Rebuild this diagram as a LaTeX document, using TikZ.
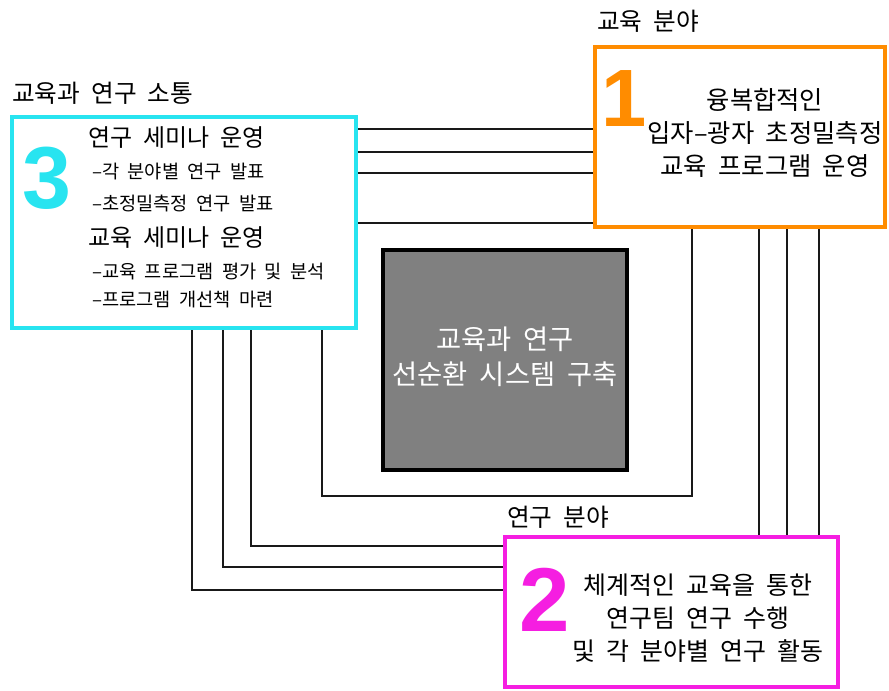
\documentclass[tikz,border=0pt]{standalone}
\usepackage{fontspec}
\setmainfont{Noto Sans CJK KR}[WordSpace=2]
\newfontfamily\numfont{Liberation Sans}
\usetikzlibrary{backgrounds}
\definecolor{cyanbox}{RGB}{40,228,240}
\definecolor{orangebox}{RGB}{255,140,0}
\definecolor{magbox}{RGB}{245,30,225}
\definecolor{coregray}{RGB}{128,128,128}
\definecolor{wirecol}{RGB}{25,25,25}
\begin{document}
\begin{tikzpicture}[x=0.75pt,y=-0.75pt,
  panel/.style={draw=#1, line width=3pt, fill=white, inner sep=0pt},
  wire/.style={draw=wirecol, line width=1.5pt},
  lbl/.style={anchor=west, inner sep=0pt, font=\fontsize{18.5pt}{22pt}\selectfont},
  head/.style={anchor=west, inner sep=0pt, font=\fontsize{18pt}{22pt}\selectfont},
  subitem/.style={anchor=west, inner sep=0pt, font=\fontsize{14pt}{17pt}\selectfont},
  body/.style={align=center, inner sep=0pt, font=\fontsize{19pt}{24.75pt}\selectfont},
  num/.style={inner sep=0pt, text=#1, font=\numfont\bfseries\fontsize{66pt}{66pt}\selectfont}]
\useasboundingbox (0,0) rectangle (889,690);

% boxes
\node[panel=cyanbox, minimum width=258pt, minimum height=158.25pt] (box3) at (184,222.5) {};
\node[panel=orangebox, minimum width=217.5pt, minimum height=135pt] (box1) at (740,137) {};
\node[panel=magbox, minimum width=249.75pt, minimum height=112.5pt] (box2) at (671.5,612) {};
\node[draw=black, line width=3pt, fill=coregray, minimum width=183pt, minimum height=165pt, inner sep=0pt] (core) at (505,360) {};

% wires
\begin{scope}[on background layer]
\fill[white] (0,0) rectangle (889,690);
\foreach \yy in {129,152,173,223}
  \draw[wire] (box3.east |- 0,\yy) -- (box1.west |- 0,\yy);
\draw[wire] (box3.south -| 322,0) |- (692,496) -- (box1.south -| 692,0);
\draw[wire] (box3.south -| 251,0) |- (box2.west |- 0,546);
\draw[wire] (box3.south -| 223,0) |- (box2.west |- 0,567);
\draw[wire] (box3.south -| 192,0) |- (box2.west |- 0,590);
\foreach \xx in {759,787,819}
  \draw[wire] (box1.south -| \xx,0) -- (box2.north -| \xx,0);
\end{scope}

% labels above boxes
\node[lbl] (l3) at (12,93) {교육과 연구 소통};
\node[lbl] (l1) at (597,21) {교육 분야};
\node[lbl] (l2) at (507,517) {연구 분야};

% numbers
\node[num=cyanbox] (n3) at (47,178) {3};
\node[num=orangebox, font=\numfont\bfseries\fontsize{61pt}{61pt}\selectfont] (n1) at (624,99) {1};
\node[num=magbox, font=\numfont\bfseries\fontsize{68pt}{68pt}\selectfont] (n2) at (545,600) {2};

% box 3 text
\node[head] (t31) at (88,138) {연구 세미나 운영};
\node[subitem] (t32) at (92,172) {–각 분야별 연구 발표};
\node[subitem] (t33) at (92,203) {–초정밀측정 연구 발표};
\node[head] (t34) at (88,238) {교육 세미나 운영};
\node[subitem] (t35) at (92,272) {–교육 프로그램 평가 및 분석};
\node[subitem] (t36) at (92,300) {–프로그램 개선책 마련};

% box 1 text
\node[body] (t1) at (765,133) {융복합적인\\입자–광자 초정밀측정\\교육 프로그램 운영};

% box 2 text
\node[body, font=\fontsize{18.7pt}{25pt}\selectfont] (t2) at (698,618) {체계적인 교육을 통한\\연구팀 연구 수행\\및 각 분야별 연구 활동};

% core text
\node[align=center, inner sep=0pt, text=white, font=\fontsize{20.5pt}{26.5pt}\selectfont] (tc) at (505,357) {교육과 연구\\선순환 시스템 구축};
\end{tikzpicture}
\end{document}
